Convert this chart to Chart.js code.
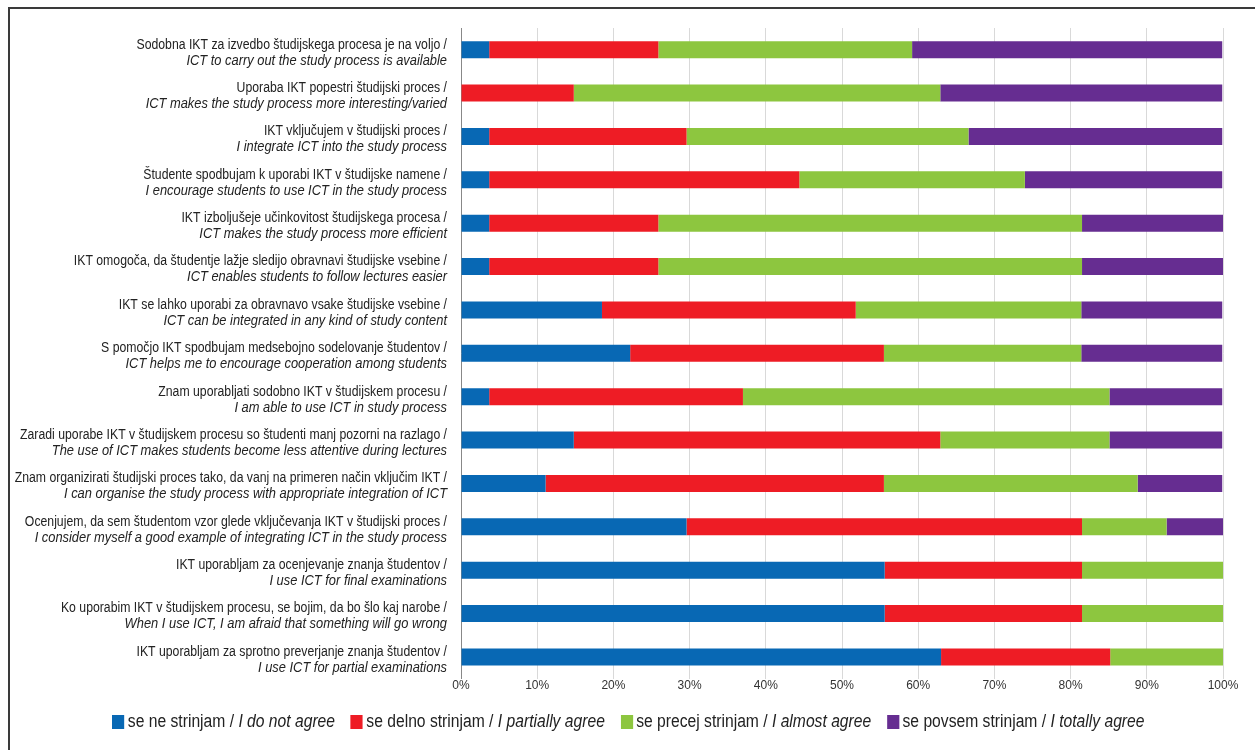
<!DOCTYPE html>
<html>
<head>
<meta charset="utf-8">
<script src="https://cdn.jsdelivr.net/npm/chart.js@4"></script>
<style>
    body { margin: 0; background: #fff; }
    #wrap { position: relative; width: 1255px; height: 750px; overflow: hidden; }
    #frame { position: absolute; left: 8px; top: 7px; width: 1300px; height: 800px;
             border-left: 2px solid #3a3a3a; border-top: 2px solid #3a3a3a; }
    canvas { position: absolute; left: 0; top: 0; }
    #legend { position: absolute; left: 0; width: 1255px; top: 711px; display: flex; justify-content: center;
              font-family: 'Liberation Sans', Arial, sans-serif; font-size: 18px; color: #222;
              transform: scaleX(0.87); transform-origin: 634px 0; }
    .item { display: flex; align-items: center; margin: 0 9px; white-space: nowrap; }
    .box { width: 14px; height: 14px; margin-right: 4px; }
    .item i { font-style: italic; }
</style>
</head>
<body>
<div id="wrap">
    <div id="frame"></div>
    <canvas id="chart" width="1255" height="750"></canvas>
    <div id="legend"></div>
</div>
<script>
document.addEventListener('DOMContentLoaded', function() {
    const labelsSl = [
        'Sodobna IKT za izvedbo študijskega procesa je na voljo /',
        'Uporaba IKT popestri študijski proces /',
        'IKT vključujem v študijski proces /',
        'Študente spodbujam k uporabi IKT v študijske namene /',
        'IKT izboljušeje učinkovitost študijskega procesa /',
        'IKT omogoča, da študentje lažje sledijo obravnavi študijske vsebine /',
        'IKT se lahko uporabi za obravnavo vsake študijske vsebine /',
        'S pomočjo IKT spodbujam medsebojno sodelovanje študentov /',
        'Znam uporabljati sodobno IKT v študijskem procesu /',
        'Zaradi uporabe IKT v študijskem procesu so študenti manj pozorni na razlago /',
        'Znam organizirati študijski proces tako, da vanj na primeren način vključim IKT /',
        'Ocenjujem, da sem študentom vzor glede vključevanja IKT v študijski proces /',
        'IKT uporabljam za ocenjevanje znanja študentov /',
        'Ko uporabim IKT v študijskem procesu, se bojim, da bo šlo kaj narobe /',
        'IKT uporabljam za sprotno preverjanje znanja študentov /'
    ];
    const labelsEn = [
        'ICT to carry out the study process is available',
        'ICT makes the study process more interesting/varied',
        'I integrate ICT into the study process',
        'I encourage students to use ICT in the study process',
        'ICT makes the study process more efficient',
        'ICT enables students to follow lectures easier',
        'ICT can be integrated in any kind of study content',
        'ICT helps me to encourage cooperation among students',
        'I am able to use ICT in study process',
        'The use of ICT makes students become less attentive during lectures',
        'I can organise the study process with appropriate integration of ICT',
        'I consider myself a good example of integrating ICT in the study process',
        'I use ICT for final examinations',
        'When I use ICT, I am afraid that something will go wrong',
        'I use ICT for partial examinations'
    ];

    // shares in %
    const disagree  = [3.7, 0, 3.7, 3.7, 3.7, 3.7, 18.5, 22.2, 3.7, 14.8, 11.1, 29.6, 55.6, 55.6, 63.0];
    const partially = [22.2, 14.8, 25.9, 40.7, 22.2, 22.2, 33.3, 33.3, 33.3, 48.1, 44.4, 51.9, 25.9, 25.9, 22.2];
    const almost    = [33.3, 48.1, 37.0, 29.6, 55.6, 55.6, 29.6, 25.9, 48.1, 22.2, 33.3, 11.1, 18.5, 18.5, 14.8];
    const totally   = [40.7, 37.0, 33.3, 25.9, 18.5, 18.5, 18.5, 18.5, 14.8, 14.8, 11.1, 7.4, 0, 0, 0];

    const seriesSl = ['se ne strinjam', 'se delno strinjam', 'se precej strinjam', 'se povsem strinjam'];
    const seriesEn = ['I do not agree', 'I partially agree', 'I almost agree', 'I totally agree'];
    const colors = ['#0868b4', '#ee1c25', '#8dc63f', '#662d91'];
    const values = [disagree, partially, almost, totally];

    const FONT = "'Liberation Sans', Arial, sans-serif";
    // no narrow face installed, squeeze horizontally
    const NARROW = 0.875;
    const NARROW_IT = 0.92;

    function squeezed(ctx, txt, font, sx, x, y) {
        ctx.save();
        ctx.font = font;
        ctx.scale(sx, 1);
        ctx.fillText(txt, x / sx, y);
        ctx.restore();
    }

    // two-line category labels, second line italic
    const twoLineLabels = {
        id: 'twoLineLabels',
        afterDraw(chart) {
            const ctx = chart.ctx;
            const y = chart.scales.y;
            ctx.save();
            ctx.fillStyle = '#222';
            ctx.textAlign = 'right';
            ctx.textBaseline = 'middle';
            labelsSl.forEach(function(txt, i) {
                const py = y.getPixelForTick(i);
                squeezed(ctx, txt, '14px ' + FONT, NARROW, 447, py - 5);
                squeezed(ctx, labelsEn[i], 'italic 14px ' + FONT, NARROW_IT, 447, py + 11);
            });
            ctx.restore();
        }
    };

    new Chart(document.getElementById('chart'), {
        type: 'bar',
        data: {
            labels: labelsSl,
            datasets: values.map(function(v, i) {
                return {
                    label: seriesSl[i] + ' / ' + seriesEn[i],
                    data: v,
                    backgroundColor: colors[i],
                    borderWidth: 0,
                    barPercentage: 0.8,
                    categoryPercentage: 0.49
                };
            })
        },
        options: {
            indexAxis: 'y',
            responsive: false,
            animation: false,
            layout: { padding: { left: 453, right: 32, top: 28, bottom: 57 } },
            plugins: {
                legend: { display: false },
                tooltip: { enabled: false }
            },
            scales: {
                x: {
                    stacked: true,
                    min: 0,
                    max: 100,
                    ticks: {
                        stepSize: 10,
                        color: '#333',
                        padding: 0,
                        font: { family: FONT, size: 12 },
                        callback: function(v) { return v + '%'; }
                    },
                    grid: { color: '#d9d9d9', tickLength: 0 },
                    border: { display: false }
                },
                y: {
                    stacked: true,
                    ticks: { display: false },
                    grid: { display: false },
                    border: { display: true, color: '#888', width: 1 }
                }
            }
        },
        plugins: [twoLineLabels]
    });

    const legend = document.getElementById('legend');
    seriesSl.forEach(function(s, i) {
        const item = document.createElement('div');
        item.className = 'item';
        item.innerHTML = '<span class="box" style="background:' + colors[i] + '"></span>' +
            '<span>' + s + ' / <i>' + seriesEn[i] + '</i></span>';
        legend.appendChild(item);
    });
});
</script>
</body>
</html>
